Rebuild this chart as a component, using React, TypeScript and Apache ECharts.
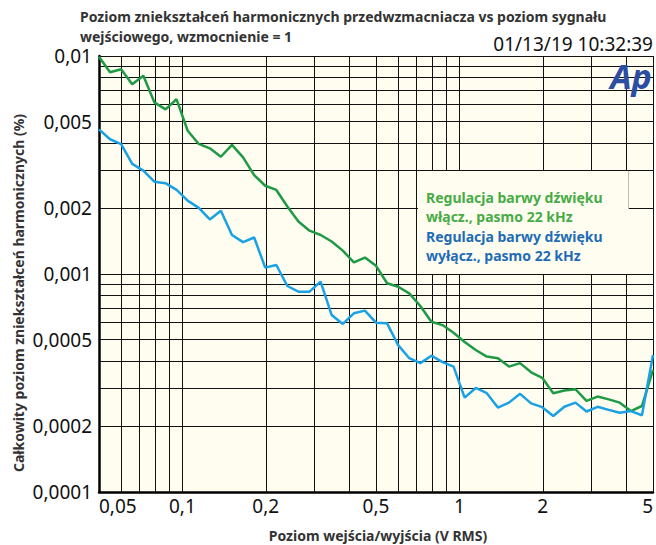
import React, { useEffect, useRef } from "react";
import * as echarts from "echarts";

// Input / output level (V RMS)
const levels = [
  0.05, 0.0548, 0.0601, 0.0659, 0.0723, 0.0792, 0.0869, 0.0953, 0.1045, 0.1146,
  0.1256, 0.1377, 0.151, 0.1656, 0.1816, 0.1991, 0.2183, 0.2393, 0.2624, 0.2877,
  0.3155, 0.3459, 0.3793, 0.4159, 0.456, 0.5, 0.5483, 0.6012, 0.6592, 0.7228,
  0.7924, 0.869, 0.9528, 1.0447, 1.1455, 1.256, 1.3772, 1.5101, 1.6558, 1.8156,
  1.9907, 2.1827, 2.3933, 2.6242, 2.8774, 3.155, 3.4594, 3.7932, 4.1592, 4.5604, 5.0,
];

// THD (%) with tone control on, 22 kHz bandwidth (green)
const thdToneOn = [
  0.00993, 0.00842, 0.00869, 0.00742, 0.00812, 0.00613, 0.00569, 0.00633, 0.00454, 0.00395,
  0.00377, 0.00345, 0.00391, 0.00343, 0.00284, 0.00254, 0.00243, 0.00204, 0.00174, 0.00158,
  0.00151, 0.00141, 0.00128, 0.00113, 0.00119, 0.00109, 0.000907, 0.000874, 0.000815, 0.000713,
  0.000604, 0.000583, 0.000538, 0.000488, 0.000448, 0.000418, 0.000411, 0.000376, 0.00039, 0.000354,
  0.000334, 0.000284, 0.000292, 0.000296, 0.000262, 0.000274, 0.000266, 0.000257, 0.000235, 0.000248,
  0.000363,
];

// THD (%) with tone control off, 22 kHz bandwidth (blue)
const thdToneOff = [
  0.00461, 0.00415, 0.00394, 0.0032, 0.00298, 0.00265, 0.00261, 0.00243, 0.00217, 0.00201,
  0.00178, 0.00195, 0.00151, 0.0014, 0.00147, 0.00107, 0.0011, 0.000881, 0.00083, 0.00083,
  0.000922, 0.000648, 0.00059, 0.00066, 0.000679, 0.000598, 0.000594, 0.000472, 0.000411, 0.00039,
  0.000422, 0.000394, 0.000376, 0.000271, 0.0003, 0.000284, 0.000244, 0.000257, 0.000282, 0.000255,
  0.000245, 0.000223, 0.000246, 0.000257, 0.000234, 0.000246, 0.000238, 0.000231, 0.000235, 0.000225,
  0.000425,
];

const xGridValues = [0.05, 0.06, 0.07, 0.08, 0.09, 0.1, 0.2, 0.3, 0.4, 0.5, 0.6, 0.7, 0.8, 0.9, 1, 2, 3, 4, 5];
const xLabelValues = [0.05, 0.1, 0.2, 0.5, 1, 2, 5];
const yGridValues = [
  0.0001, 0.0002, 0.0003, 0.0004, 0.0005, 0.0006, 0.0007, 0.0008, 0.0009,
  0.001, 0.002, 0.003, 0.004, 0.005, 0.006, 0.007, 0.008, 0.009, 0.01,
];
const yLabelValues = [0.0001, 0.0002, 0.0005, 0.001, 0.002, 0.005, 0.01];

const titleLine1 = "Poziom zniekształceń harmonicznych przedwzmacniacza vs poziom sygnału";
const titleLine2 = "wejściowego, wzmocnienie = 1";
const timestamp = "01/13/19 10:32:39";
const xName = "Poziom wejścia/wyjścia (V RMS)";
const yName = "Całkowity poziom zniekształceń harmonicznych (%)";
const legendOn = ["Regulacja barwy dźwięku", "włącz., pasmo 22 kHz"];
const legendOff = ["Regulacja barwy dźwięku", "wyłącz., pasmo 22 kHz"];

const FONT = "'Noto Sans', 'Open Sans', sans-serif";
const CREAM = "#fefdf0";

const fmt = (v: number) => String(parseFloat(Number(v).toPrecision(6))).replace(".", ",");

export default function App() {
  const ref = useRef<HTMLDivElement>(null);
  useEffect(() => {
    if (!ref.current) return;
    const chart = echarts.init(ref.current, undefined, { renderer: "svg" });
    const option: any = {
      animation: false,
      backgroundColor: "#ffffff",
      textStyle: { fontFamily: FONT },
      grid: {
        left: 99,
        right: 2,
        top: 56,
        bottom: 53,
        show: true,
        backgroundColor: CREAM,
        borderWidth: 0,
      },
      xAxis: {
        type: "log",
        logBase: 10,
        min: 0.05,
        max: 5,
        axisLine: { show: true, onZero: false, lineStyle: { color: "#000", width: 2.5 } },
        axisTick: { show: false, customValues: xGridValues },
        splitLine: { show: true, lineStyle: { color: "#111", width: 1 } },
        minorSplitLine: { show: false },
        axisLabel: {
          customValues: xLabelValues,
          formatter: (v: number) => fmt(v),
          color: "#111",
          fontSize: 19,
          fontFamily: FONT,
          margin: 4,
          alignMinLabel: "left",
          alignMaxLabel: "right",
        },
      },
      yAxis: {
        type: "log",
        logBase: 10,
        min: 0.0001,
        max: 0.01,
        axisLine: { show: true, onZero: false, lineStyle: { color: "#000", width: 2.5 } },
        axisTick: { show: false, customValues: yGridValues },
        splitLine: { show: true, lineStyle: { color: "#111", width: 1 } },
        minorSplitLine: { show: false },
        axisLabel: {
          customValues: yLabelValues,
          formatter: (v: number) => fmt(v),
          color: "#111",
          fontSize: 19,
          fontFamily: FONT,
          margin: 7,
        },
      },
      series: [
        {
          name: "on",
          type: "line",
          showSymbol: false,
          symbol: "none",
          data: levels.map((x, i) => [x, thdToneOn[i]]),
          lineStyle: { color: "#1e9a44", width: 2.5 },
          z: 3,
        },
        {
          name: "off",
          type: "line",
          showSymbol: false,
          symbol: "none",
          data: levels.map((x, i) => [x, thdToneOff[i]]),
          lineStyle: { color: "#19a1e3", width: 2.5 },
          z: 4,
        },
      ],
      graphic: [
        {
          type: "text",
          left: 80,
          top: 9,
          style: { text: titleLine1, fill: "#333", font: `bold 14px ${FONT}` },
        },
        {
          type: "text",
          left: 80,
          top: 29,
          style: { text: titleLine2, fill: "#333", font: `bold 14px ${FONT}` },
        },
        {
          type: "text",
          x: 653,
          y: 44,
          style: { text: timestamp, fill: "#111", font: `19px ${FONT}`, align: "right", verticalAlign: "middle" },
        },
        {
          type: "text",
          x: 378,
          y: 535,
          style: { text: xName, fill: "#333", font: `bold 14px ${FONT}`, align: "center", verticalAlign: "middle" },
        },
        {
          type: "text",
          x: 18,
          y: 293,
          rotation: Math.PI / 2,
          style: { text: yName, fill: "#333", font: `bold 14px ${FONT}`, align: "center", verticalAlign: "middle" },
        },
        {
          type: "rect",
          z: 50,
          shape: { x: 418, y: 171, width: 210, height: 103 },
          style: { fill: CREAM, stroke: null },
        },
        {
          type: "line",
          z: 50,
          shape: { x1: 628.5, y1: 171, x2: 628.5, y2: 209 },
          style: { stroke: "#bbbbbb", lineWidth: 1 },
        },
        {
          type: "text",
          z: 51,
          x: 426,
          y: 197,
          style: { text: legendOn[0], fill: "#47ab46", font: `bold 14px ${FONT}`, verticalAlign: "middle" },
        },
        {
          type: "text",
          z: 51,
          x: 426,
          y: 216,
          style: { text: legendOn[1], fill: "#47ab46", font: `bold 14px ${FONT}`, verticalAlign: "middle" },
        },
        {
          type: "text",
          z: 51,
          x: 426,
          y: 236,
          style: { text: legendOff[0], fill: "#1f6cb6", font: `bold 14px ${FONT}`, verticalAlign: "middle" },
        },
        {
          type: "text",
          z: 51,
          x: 426,
          y: 255,
          style: { text: legendOff[1], fill: "#1f6cb6", font: `bold 14px ${FONT}`, verticalAlign: "middle" },
        },
        {
          type: "text",
          z: 51,
          x: 631,
          y: 76,
          style: {
            text: "Ap",
            fill: "#2b4ea2",
            font: `italic bold 34px ${FONT}`,
            align: "center",
            verticalAlign: "middle",
          },
        },
      ],
    };
    chart.setOption(option);
    return () => chart.dispose();
  }, []);
  return (
    <div
      ref={ref}
      style={{ position: "fixed", left: 0, top: 0, width: 656, height: 545 }}
    />
  );
}
